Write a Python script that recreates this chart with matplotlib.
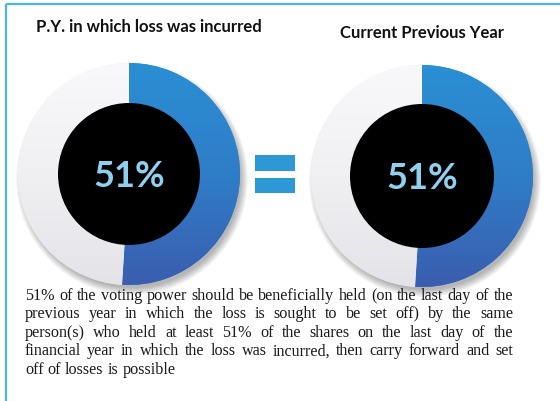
import matplotlib
matplotlib.use("Agg")
import matplotlib.pyplot as plt
import numpy as np
from matplotlib.patches import Circle, Rectangle
from matplotlib.colors import LinearSegmentedColormap

W, H = 560, 402

titles = ["P.Y. in which loss was incurred", "Current Previous Year"]
share_values = [51, 49]          # held share vs remainder (%)
center_labels = ["51%", "51%"]
paragraph_lines = [
    "51% of the voting power should be beneficially held (on the last day of the",
    "previous year in which the loss is sought to be set off) by the same",
    "person(s) who held at least 51% of the shares on the last day of the",
    "financial year in which the loss was incurred, then carry forward and set",
    "off of losses is possible",
]

BLUE_TOP = "#2a8fd4"
BLUE_BOT = "#3b5daf"
RING_GRAY = "#efeff2"
LABEL_BLUE = "#8fd0f0"
EQ_BLUE = "#2d98d6"
BORDER = "#49b6ec"

fig = plt.figure(figsize=(W / 100, H / 100), dpi=100)
ax = fig.add_axes([0, 0, 1, 1])

def py(y):
    return H - y

donuts = [dict(cx=129, cy=175, R=111, r=71, ty=27, tx=149, by=187),
          dict(cx=422, cy=177, R=111, r=72, ty=33, tx=422, by=189)]

cmap = LinearSegmentedColormap.from_list("bl", [BLUE_TOP, "#2f7dc7", BLUE_BOT])
gmap = LinearSegmentedColormap.from_list("gr", ["#f9f9fb", "#f0f0f3", "#e4e4e8"])

for d, title, lab in zip(donuts, titles, center_labels):
    cx, cy = d["cx"], py(d["cy"])
    R, r = d["R"], d["r"]
    # soft shadow
    for i in range(10):
        ax.add_patch(Circle((cx + 3, cy - 5), R + 5 - i * 0.8, color="#000000",
                            alpha=0.03, lw=0, zorder=1))
    wedges, _ = ax.pie(share_values, colors=[BLUE_TOP, RING_GRAY], startangle=90,
                       counterclock=False, center=(cx, cy), radius=R,
                       wedgeprops=dict(linewidth=0))
    for w in wedges:
        w.set_zorder(2)
    grad = np.linspace(0, 1, 256).reshape(-1, 1)
    im = ax.imshow(grad, cmap=cmap, extent=(cx - R, cx + R, cy - R, cy + R),
                   origin="upper", aspect="auto", zorder=3)
    im.set_clip_path(wedges[0])
    im2 = ax.imshow(grad, cmap=gmap, extent=(cx - R, cx + R, cy - R, cy + R),
                    origin="upper", aspect="auto", zorder=3)
    im2.set_clip_path(wedges[1])
    ax.add_patch(Circle((cx, cy), r, color="black", lw=0, zorder=4))
    ax.text(cx, py(d["by"]), lab, ha="center", va="baseline", color=LABEL_BLUE,
            fontsize=26, fontweight="bold", family="Lato", zorder=5)
    ax.text(d["tx"], py(d["ty"]), title, ha="center", va="center",
            color="#111111", fontsize=12, fontweight="bold", family="Lato")

# equals sign
ax.add_patch(Rectangle((255, py(172)), 40, 16, color=EQ_BLUE, lw=0))
ax.add_patch(Rectangle((255, py(194)), 40, 15, color=EQ_BLUE, lw=0))

# border
ax.plot([6, W], [py(5), py(5)], color=BORDER, lw=1.6, solid_capstyle="butt")
ax.plot([6, 6], [py(5), 0], color=BORDER, lw=1.6, solid_capstyle="butt")

ax.set_xlim(0, W)
ax.set_ylim(0, H)
ax.set_aspect("auto")
ax.axis("off")

# justified paragraph
renderer = fig.canvas.get_renderer()
x0, x1 = 25, 513
baselines = [300, 318.5, 337, 355.5, 374]
fam = "Liberation Serif"

t = ax.text(0, 0, paragraph_lines[0], fontsize=10, family=fam)
w10 = t.get_window_extent(renderer).width
t.remove()
fs = 10 * (x1 - x0 - 4) / w10

for i, (line, yy) in enumerate(zip(paragraph_lines, baselines)):
    words = line.split(" ")
    widths = []
    for wd in words:
        t = ax.text(0, 0, wd, fontsize=fs, family=fam)
        widths.append(t.get_window_extent(renderer).width)
        t.remove()
    if i < len(paragraph_lines) - 1:
        gap = (x1 - x0 - sum(widths)) / (len(words) - 1)
    else:
        gap = 4.0
    x = x0
    for wd, wdt in zip(words, widths):
        ax.text(x, py(yy), wd, fontsize=fs, family=fam, ha="left", va="baseline",
                color="#1a1a1a")
        x += wdt + gap

fig.savefig("out.png", dpi=100)
